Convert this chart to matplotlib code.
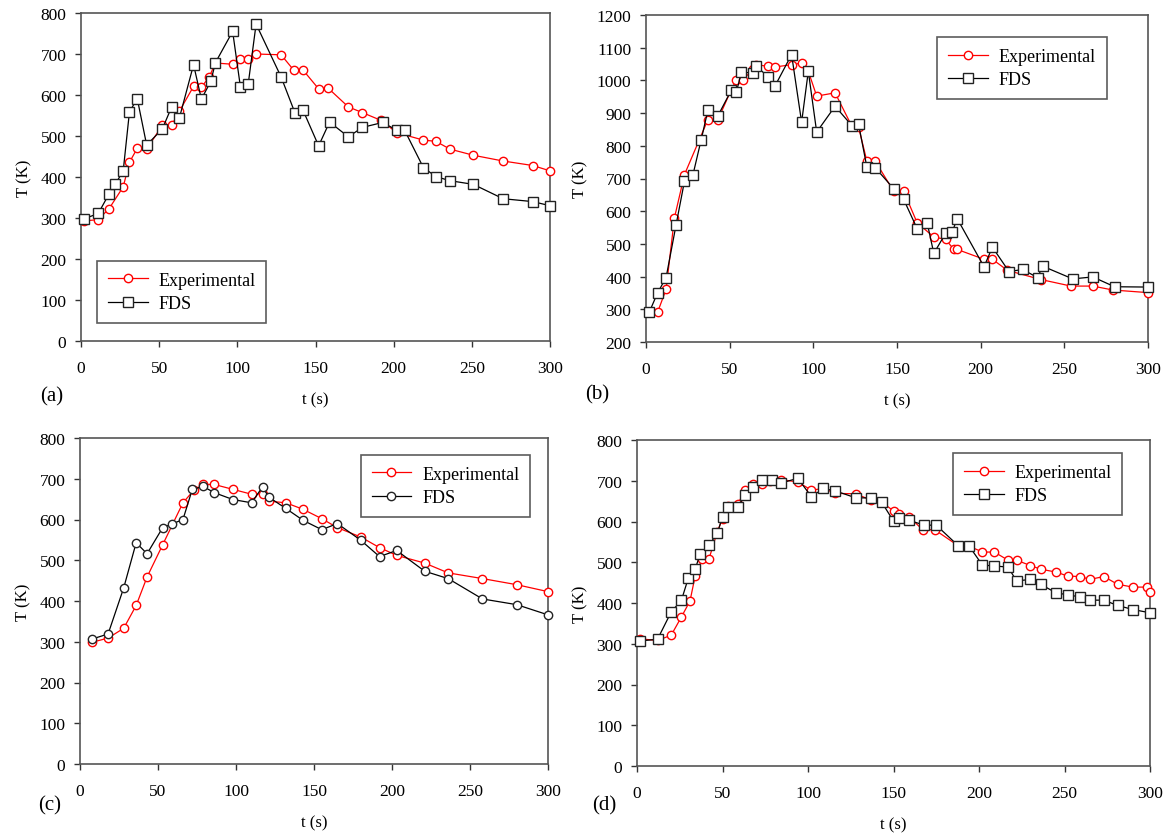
import numpy as np
import matplotlib
matplotlib.use("Agg")
import matplotlib.pyplot as plt

plt.rcParams['font.family'] = ['Liberation Serif', 'DejaVu Serif']

# (a)
a_exp_t = [2, 11, 18, 27, 31, 36, 42, 52, 58, 63, 72, 77, 82, 86, 97, 102, 107, 112, 128, 136, 142,
           152, 158, 171, 180, 192, 202, 219, 227, 236, 251, 270, 289, 300]
a_exp_T = [293, 296, 323, 376, 436, 470, 468, 526, 526, 561, 621, 619, 644, 678, 675, 688, 688, 700, 698, 661, 661,
           615, 617, 571, 557, 538, 508, 490, 487, 468, 453, 439, 428, 415]
a_fds_t = [2, 11, 18, 22, 27, 31, 36, 42, 52, 58, 63, 72, 77, 83, 86, 97, 102, 107, 112, 128, 137, 142,
           152, 159, 171, 180, 193, 202, 207, 219, 227, 236, 251, 270, 289, 300]
a_fds_T = [298, 311, 359, 383, 415, 559, 591, 478, 517, 571, 545, 674, 590, 633, 679, 755, 619, 628, 773, 644, 555, 563,
           476, 534, 498, 521, 533, 514, 514, 423, 401, 391, 382, 347, 340, 330]

# (b)
b_exp_t = [7, 12, 17, 23, 37, 43, 51, 54, 58, 64, 66, 73, 77, 87, 93, 97, 102, 113, 123, 127, 132, 137,
           148, 154, 162, 172, 179, 184, 186, 202, 207, 216, 236, 254, 267, 279, 300]
b_exp_T = [292, 361, 580, 712, 880, 880, 972, 1002, 1002, 1035, 1048, 1043, 1041, 1048, 1053, 1028, 952, 962, 860, 858, 753, 753,
           661, 661, 565, 521, 514, 483, 483, 453, 453, 419, 391, 371, 371, 359, 351]
b_fds_t = [2, 7, 12, 18, 23, 28, 33, 37, 43, 51, 54, 57, 64, 66, 73, 77, 87, 93, 97, 102, 113, 123, 127, 132, 137,
           148, 154, 162, 168, 172, 179, 183, 186, 202, 207, 217, 225, 234, 237, 255, 267, 280, 300]
b_fds_T = [292, 351, 397, 559, 692, 710, 819, 909, 892, 970, 964, 1025, 1023, 1043, 1011, 982, 1079, 872, 1028, 842, 921, 862, 867, 735, 733,
           669, 636, 547, 565, 471, 532, 537, 577, 430, 490, 415, 422, 397, 432, 393, 399, 369, 368]

# (c)
c_exp_t = [8, 18, 28, 36, 43, 53, 66, 73, 79, 86, 98, 110, 117, 121, 132, 143,
           155, 165, 180, 192, 203, 221, 236, 258, 280, 300]
c_exp_T = [299, 309, 333, 389, 459, 538, 641, 672, 686, 686, 674, 662, 663, 645, 641, 625,
           602, 580, 557, 531, 512, 493, 469, 455, 440, 423]
c_fds_t = [8, 18, 28, 36, 43, 53, 59, 66, 72, 79, 86, 98, 110, 117, 121, 132, 143,
           155, 165, 180, 192, 203, 221, 236, 258, 280, 300]
c_fds_T = [307, 319, 432, 543, 516, 580, 589, 600, 674, 681, 666, 649, 641, 680, 655, 627, 598,
           575, 590, 549, 509, 524, 473, 455, 405, 391, 366]

# (d)
d_exp_t = [2, 12, 20, 26, 31, 34, 38, 42, 47, 50, 53, 59, 63, 68, 73, 78, 84, 94, 102, 109, 116, 128, 137, 143,
           150, 153, 159, 167, 174, 188, 194, 202, 209, 217, 222, 230, 236, 245, 252, 259, 265, 273, 281, 290, 298, 300]
d_exp_T = [312, 308, 321, 366, 405, 466, 507, 507, 575, 607, 638, 642, 677, 691, 691, 699, 703, 697, 677, 681, 669, 668, 652, 648,
           626, 618, 612, 580, 580, 540, 540, 525, 525, 505, 505, 492, 483, 476, 466, 465, 458, 465, 446, 439, 439, 427]
d_fds_t = [2, 12, 20, 26, 30, 34, 37, 42, 47, 50, 53, 59, 63, 68, 73, 79, 84, 94, 102, 109, 116, 128, 137, 143,
           150, 153, 159, 168, 175, 188, 194, 202, 209, 217, 222, 230, 236, 245, 252, 259, 265, 273, 281, 290, 300]
d_fds_T = [307, 311, 378, 407, 461, 483, 521, 542, 571, 612, 636, 636, 664, 685, 701, 702, 694, 706, 661, 681, 675, 658, 658, 648,
           601, 609, 603, 591, 591, 540, 541, 493, 491, 488, 454, 458, 446, 425, 420, 415, 407, 407, 394, 384, 376]

W, H = 1175, 837
fig = plt.figure(figsize=(W / 100, H / 100), dpi=100)


def px_axes(l, r, t, b):
    return fig.add_axes([l / W, 1 - b / H, (r - l) / W, (b - t) / H])


def style(ax, ylim, yticks):
    ax.set_xlim(0, 300)
    ax.set_ylim(*ylim)
    ax.set_xticks(np.arange(0, 301, 50))
    ax.set_yticks(yticks)
    for s in ax.spines.values():
        s.set_color('#555555')
        s.set_linewidth(1.2)
    ax.tick_params(direction='out', length=4, width=1, colors='#333333', labelsize=12.5,
                   labelcolor='black')
    ax.tick_params(axis='x', pad=10)
    ax.tick_params(axis='y', pad=6.5)
    ax.set_xlabel('t (s)', fontsize=12, labelpad=11)
    ax.set_ylabel('T (K)', fontsize=12, labelpad=6)


panels = [
    ((81, 550, 14, 342), a_exp_t, a_exp_T, a_fds_t, a_fds_T, 's', (0, 800), np.arange(0, 801, 100),
     (0.034, 0.055), '(a)', (40, 397)),
    ((646, 1148, 16, 343), b_exp_t, b_exp_T, b_fds_t, b_fds_T, 's', (200, 1200), np.arange(200, 1201, 100),
     (0.58, 0.743), '(b)', (585, 395)),
    ((80, 548, 439, 765), c_exp_t, c_exp_T, c_fds_t, c_fds_T, 'o', (0, 800), np.arange(0, 801, 100),
     (0.6, 0.758), '(c)', (38, 806)),
    ((637, 1150, 441, 767), d_exp_t, d_exp_T, d_fds_t, d_fds_T, 's', (0, 800), np.arange(0, 801, 100),
     (0.616, 0.77), '(d)', (592, 806)),
]

for box, et, eT, ft, fT, fm, ylim, yt, legpos, lab, labpos in panels:
    ax = px_axes(*box)
    ax.plot(et, eT, color='red', lw=0.9, marker='o', ms=6, mfc='white', mec='red', mew=1,
            label='Experimental', clip_on=False, zorder=3)
    ax.plot(ft, fT, color='black', lw=0.9, marker=fm, ms=6.5 if fm == 's' else 6, mfc='white',
            mec='#222222', mew=1, label='FDS', clip_on=False, zorder=4)
    style(ax, ylim, yt)
    leg = ax.legend(loc='lower left', bbox_to_anchor=legpos, fontsize=13, frameon=True, fancybox=False,
                    edgecolor='#333333', handlelength=2.2, borderpad=0.6, labelspacing=0.35,
                    handletextpad=0.6, borderaxespad=0)
    leg.get_frame().set_linewidth(1.2)
    fig.text(labpos[0] / W, 1 - labpos[1] / H, lab, fontsize=15, ha='left', va='center')

fig.savefig('out.png', dpi=100)
